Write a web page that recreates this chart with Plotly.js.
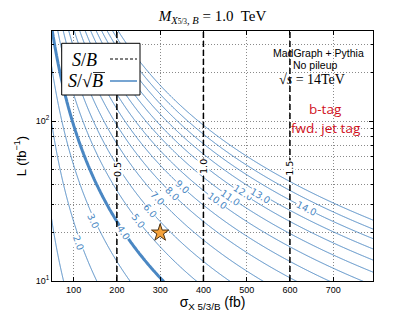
<!DOCTYPE html>
<html><head><meta charset="utf-8">
<script src="https://cdn.plot.ly/plotly-3.0.1.min.js"></script>
<style>html,body{margin:0;padding:0;background:#fff}#chart{width:415px;height:312px}</style>
</head><body><div id="chart"></div>
<script>
// ---------------- data ----------------
const sigmaRange = [50, 792];                 // σ_X5/3/B (fb)
const lumiRange = [10, 366];                  // L (fb^-1)
const sigmaTicks = [100, 200, 300, 400, 500, 600, 700];
const lumiMajorTicks = [10, 100];
const lumiMajorLabels = ['10<sup>1</sup>', '10<sup>2</sup>'];
const lumiMinorTicks = [20, 30, 40, 50, 60, 70, 80, 90, 200, 300];

// S/sqrt(B) contour levels; S/sqrt(B) = zPerSigmaRootL * sigma * sqrt(L)
const zLevels = [1, 16];                      // first and last level, step 1
const zThickLevel = 4;
const zPerSigmaRootL = 0.00412;
// inline contour labels: value and approximate position (sigma, L)
const zLabelValues = [2, 3, 4, 5, 6, 7, 8, 9, 10, 11, 12, 13, 14];
const zLabelSigma  = [111, 145, 215, 249, 277, 295, 328, 351, 432, 462, 492, 531, 639];
const zLabelLumi   = [17.4, 23.9, 20.1, 23.9, 27.7, 32.9, 35.4, 39.1, 32.0, 33.4, 35.9, 34.4, 28.5];

// S/B lines (vertical)
const sbLevels = ['0.5', '1.0', '1.5'];
const sbSigma = [200, 400, 600];
const sbLabelLumi = [50, 52, 51];

// benchmark point
const benchSigma = [300];
const benchLumi = [20];

// ---------------- build ----------------
const blue = '#4a87c3';
const sigmaGrid = [];
for (let s = 40; s <= 800; s += 4) sigmaGrid.push(s);
const lumiGrid = [];
for (let i = 0; i <= 160; i++) lumiGrid.push(Math.pow(10, 0.95 + i * (2.62 - 0.95) / 160));
const zGrid = lumiGrid.map(L => sigmaGrid.map(s => zPerSigmaRootL * s * Math.sqrt(L)));

// plot-area geometry (for label angles and legend placement)
const W = 415, H = 312, mL = 52, mR = 42, mT = 31, mB = 31;
const pw = W - mL - mR, ph = H - mT - mB;
const ly0 = Math.log10(lumiRange[0]), ly1 = Math.log10(lumiRange[1]);
const pxPerSigma = pw / (sigmaRange[1] - sigmaRange[0]);
const pxPerDecade = ph / (ly1 - ly0);
const toPX = px => (px - mL) / pw;           // pixel -> paper
const toPY = py => (H - mB - py) / ph;

const traces = [];
traces.push({
  type: 'contour', x: sigmaGrid, y: lumiGrid, z: zGrid,
  contours: {start: zLevels[0], end: zLevels[1], size: 1, coloring: 'lines', showlabels: false},
  line: {width: 1, smoothing: 0},
  colorscale: [[0, blue], [1, blue]], showscale: false, hoverinfo: 'skip'
});
traces.push({
  type: 'contour', x: sigmaGrid, y: lumiGrid, z: zGrid,
  contours: {start: zThickLevel, end: zThickLevel, size: 1, coloring: 'lines', showlabels: false},
  line: {width: 3, smoothing: 0},
  colorscale: [[0, blue], [1, blue]], showscale: false, hoverinfo: 'skip'
});
sbSigma.forEach(s => traces.push({
  type: 'scatter', mode: 'lines', x: [s, s], y: [lumiRange[0], lumiRange[1]],
  line: {color: 'black', width: 1.5, dash: '6px,3px'}, hoverinfo: 'skip'
}));
traces.push({
  type: 'scatter', mode: 'markers', x: benchSigma, y: benchLumi,
  marker: {symbol: 'star', size: 13, color: '#f5a23a', line: {color: '#4a3010', width: 1}},
  hoverinfo: 'skip'
});

const annotations = [];
const ann = o => annotations.push(Object.assign({showarrow: false, xanchor: 'center', yanchor: 'middle'}, o));
zLabelValues.forEach((v, i) => {
  const s = zLabelSigma[i];
  const ang = Math.atan(2 * pxPerDecade / (Math.LN10 * s * pxPerSigma)) * 180 / Math.PI;
  ann({xref: 'x', yref: 'y', x: s, y: Math.log10(zLabelLumi[i]),
    text: v.toFixed(1), textangle: ang,
    font: {family: 'DejaVu Sans', size: 9.5, color: blue}, bgcolor: 'white', borderpad: 0});
});
sbLevels.forEach((t, i) => ann({
  xref: 'x', yref: 'y', x: sbSigma[i], y: Math.log10(sbLabelLumi[i]),
  text: t, textangle: -90,
  font: {family: 'DejaVu Sans', size: 9.5, color: 'black'}, bgcolor: 'white', borderpad: 0
}));
// legend texts
ann({xref: 'paper', yref: 'paper', x: toPX(84), y: toPY(59.5), text: '<i>S</i>/<i>B</i>',
  font: {family: 'Liberation Serif', size: 18, color: 'black'}});
ann({xref: 'paper', yref: 'paper', x: toPX(85), y: toPY(81), text: '<i>S</i>/√<i>B</i>',
  font: {family: 'Liberation Serif', size: 18, color: 'black'}});
// info texts
const info = [
  ['MadGraph + Pythia', 318, 53, 'Liberation Sans', 10.5, 'black'],
  ['No pileup', 315, 64.5, 'Liberation Sans', 10.5, 'black'],
  ['√<i>s</i> = 14TeV', 312, 80, 'Liberation Serif', 14, 'black'],
  ['b-tag', 325, 109, 'Open Sans', 13.5, '#d0101c'],
  ['fwd. jet tag', 326, 128, 'Open Sans', 13.5, '#d0101c']
];
info.forEach(t => ann({xref: 'paper', yref: 'paper', x: toPX(t[1]), y: toPY(t[2]),
  text: t[0], font: {family: t[3], size: t[4], color: t[5]}}));

const shapes = [
  {type: 'rect', xref: 'paper', yref: 'paper', x0: toPX(61.7), x1: toPX(140), y0: toPY(95), y1: toPY(43.3),
   fillcolor: 'white', line: {color: 'black', width: 1}, layer: 'above'},
  {type: 'line', xref: 'paper', yref: 'paper', x0: toPX(110), x1: toPX(137), y0: toPY(59), y1: toPY(59),
   line: {color: 'black', width: 1, dash: '3px,2px'}, layer: 'above'},
  {type: 'line', xref: 'paper', yref: 'paper', x0: toPX(110), x1: toPX(137), y0: toPY(81), y1: toPY(81),
   line: {color: blue, width: 1.5}, layer: 'above'},
  {type: 'line', xref: 'paper', yref: 'paper', x0: toPX(93), x1: toPX(105), y0: toPY(72.5), y1: toPY(72.5),
   line: {color: 'black', width: 0.8}, layer: 'above'}
];

const gridStyle = {gridcolor: '#8a8a8a', griddash: '1px,2px', gridwidth: 1};
const layout = {
  width: W, height: H, margin: {l: mL, r: mR, t: mT, b: mB, pad: 0},
  paper_bgcolor: 'white', plot_bgcolor: 'white', showlegend: false,
  title: {text: '<i>M</i><sub><i>X</i><span style="font-size:70%">5/3</span>, <i>B</i></sub> = 1.0  TeV',
    font: {family: 'Liberation Serif', size: 15, color: 'black'},
    xref: 'paper', x: 0.5, xanchor: 'center', yref: 'container', y: 1 - 16 / H, yanchor: 'middle'},
  xaxis: Object.assign({
    range: sigmaRange, tickvals: sigmaTicks, ticks: 'inside', ticklen: 4, tickcolor: 'black',
    showline: true, linecolor: 'black', linewidth: 1, mirror: 'ticks', zeroline: false, showgrid: true,
    tickfont: {family: 'Liberation Sans', size: 9, color: 'black'},
    title: {text: 'σ<sub>X 5/3/B</sub> (fb)', font: {family: 'Liberation Sans', size: 14, color: 'black'}, standoff: 2}
  }, gridStyle),
  yaxis: Object.assign({
    type: 'log', range: [ly0, ly1], tickvals: lumiMajorTicks, ticktext: lumiMajorLabels,
    ticks: 'inside', ticklen: 4, tickcolor: 'black',
    showline: true, linecolor: 'black', linewidth: 1, mirror: 'ticks', zeroline: false, showgrid: true,
    tickfont: {family: 'Liberation Sans', size: 9, color: 'black'},
    minor: Object.assign({tickvals: lumiMinorTicks, ticks: 'inside', ticklen: 2, tickcolor: 'black', showgrid: true}, gridStyle),
    title: {text: 'L (fb<sup>−1</sup>)', font: {family: 'Liberation Sans', size: 13, color: 'black'}, standoff: 6}
  }, gridStyle),
  annotations: annotations, shapes: shapes
};
Plotly.newPlot('chart', traces, layout, {staticPlot: true, displayModeBar: false});
</script></body></html>
